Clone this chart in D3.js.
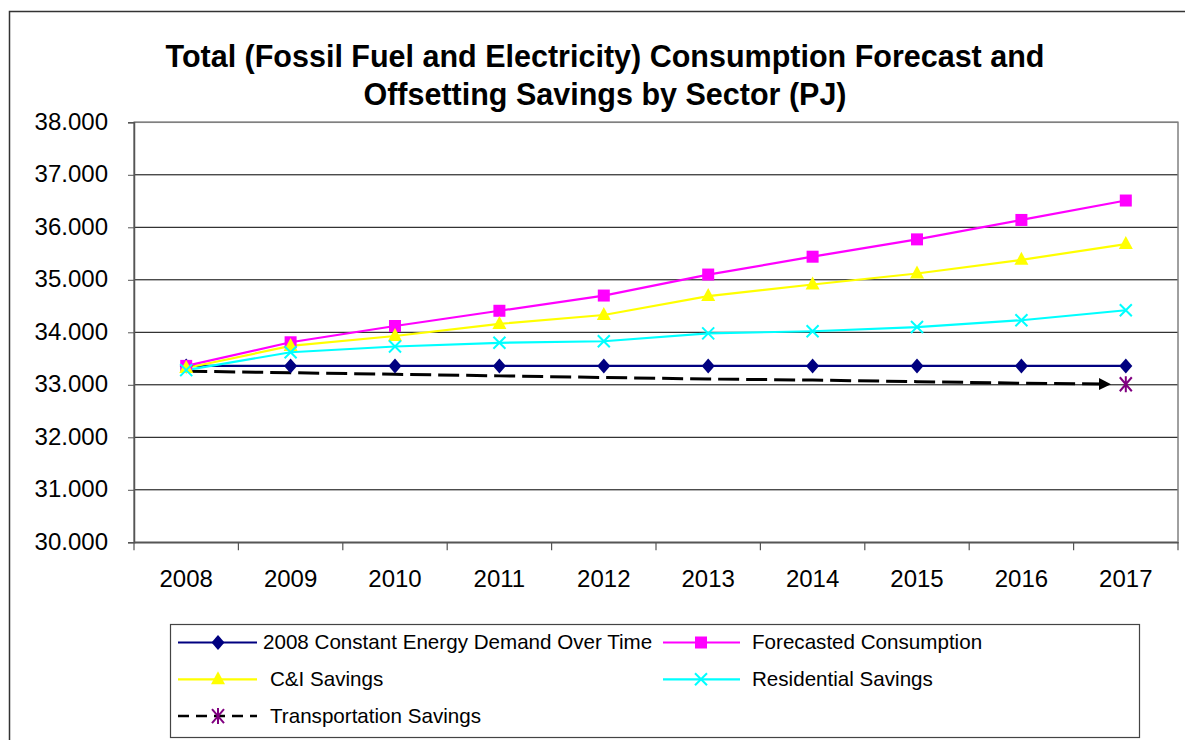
<!DOCTYPE html>
<html>
<head>
<meta charset="utf-8">
<script src="https://cdn.jsdelivr.net/npm/d3@7/dist/d3.min.js"></script>
<style>
  html, body { margin: 0; padding: 0; background: #fff; }
  svg { display: block; font-family: "Liberation Sans", Arial, sans-serif; }
</style>
</head>
<body>
<svg id="chart" width="1185" height="740"></svg>
<script>
// ---------- DATA ----------
const years = ["2008","2009","2010","2011","2012","2013","2014","2015","2016","2017"];
const yTicks = [30, 31, 32, 33, 34, 35, 36, 37, 38];
const titleLines = ["Total (Fossil Fuel and Electricity) Consumption Forecast and",
                    "Offsetting Savings by Sector (PJ)"];
const constantDemand = [33.36, 33.36, 33.36, 33.36, 33.36, 33.36, 33.36, 33.36, 33.36, 33.36];
const forecasted     = [33.36, 33.81, 34.12, 34.41, 34.70, 35.10, 35.44, 35.77, 36.14, 36.51];
const ciSavings      = [33.32, 33.74, 33.93, 34.16, 34.33, 34.69, 34.91, 35.12, 35.38, 35.68];
const residential    = [33.28, 33.62, 33.73, 33.80, 33.83, 33.98, 34.02, 34.10, 34.23, 34.42];
const transportation = [33.26, 33.23, 33.20, 33.17, 33.14, 33.11, 33.09, 33.06, 33.03, 33.01];
const seriesNames = ["2008 Constant Energy Demand Over Time", "Forecasted Consumption",
                     "C&I Savings", "Residential Savings", "Transportation Savings"];

// ---------- SETUP ----------
const svg = d3.select("#chart");
const L = 134, R = 1178, T = 122.3, B = 542.3;

const x = d3.scaleBand().domain(years).range([L, R]).padding(0);
const y = d3.scaleLinear().domain([30, 38]).range([B, T]);
const cx = d => x(d) + x.bandwidth() / 2;

// outer border
svg.append("rect").attr("x", 9.5).attr("y", 11.5).attr("width", 1190).attr("height", 760)
  .attr("fill", "none").attr("stroke", "#333").attr("stroke-width", 1.5);

// title
const title = svg.append("text").attr("text-anchor", "middle")
  .attr("font-weight", "bold").attr("font-size", "30.5px").attr("fill", "#000");
titleLines.forEach((t, i) => {
  title.append("tspan").attr("x", 605).attr("y", 67 + i * 37.5).text(t);
});

// gridlines
svg.append("g").selectAll("line").data(yTicks).join("line")
  .attr("x1", L).attr("x2", R).attr("y1", d => y(d)).attr("y2", d => y(d))
  .attr("stroke", "#000").attr("stroke-width", 1);

// plot border
svg.append("rect").attr("x", L).attr("y", T).attr("width", R - L).attr("height", B - T)
  .attr("fill", "none").attr("stroke", "#808080").attr("stroke-width", 1.5);

// y axis
const yAxis = d3.axisLeft(y).tickValues(yTicks).tickSize(6).tickPadding(20)
  .tickFormat(d3.format(".3f"));
const gy = svg.append("g").attr("transform", `translate(${L},0)`).call(yAxis);
gy.select(".domain").attr("stroke", "#555").attr("stroke-width", 1.5);
gy.selectAll(".tick line").attr("stroke", "#555");
gy.selectAll(".tick text").attr("font-size", "24px").attr("fill", "#000")
  .attr("font-family", "Liberation Sans, Arial, sans-serif").attr("dy", "0.28em");

// x axis
const xAxis = d3.axisBottom(x).tickSize(0).tickPadding(28);
const gx = svg.append("g").attr("transform", `translate(0,${B})`).call(xAxis);
gx.select(".domain").attr("stroke", "#555").attr("stroke-width", 1.5);
gx.selectAll(".tick text").attr("font-size", "24px").attr("fill", "#000")
  .attr("font-family", "Liberation Sans, Arial, sans-serif");
const bounds = years.map(d => x(d)).concat([x(years[years.length - 1]) + x.bandwidth()]);
svg.append("g").selectAll("line").data(bounds).join("line")
  .attr("x1", d => d).attr("x2", d => d).attr("y1", B).attr("y2", B + 8)
  .attr("stroke", "#555").attr("stroke-width", 1.2);

// ---------- MARKERS ----------
function drawMarker(g, type, px, py) {
  if (type === "diamond") {
    g.append("path").attr("d", `M${px},${py-7.5}L${px+6.5},${py}L${px},${py+7.5}L${px-6.5},${py}Z`)
      .attr("fill", "#000080");
  } else if (type === "square") {
    g.append("rect").attr("x", px - 6).attr("y", py - 6).attr("width", 12).attr("height", 12)
      .attr("fill", "#FF00FF");
  } else if (type === "triangle") {
    g.append("path").attr("d", `M${px},${py-8}L${px+7},${py+5}L${px-7},${py+5}Z`)
      .attr("fill", "#FFFF00");
  } else if (type === "x") {
    g.append("path").attr("d", `M${px-6},${py-6}L${px+6},${py+6}M${px-6},${py+6}L${px+6},${py-6}`)
      .attr("stroke", "#00FFFF").attr("stroke-width", 2);
  } else if (type === "star") {
    g.append("path").attr("d", `M${px-6},${py-7}L${px+6},${py+7}M${px-6},${py+7}L${px+6},${py-7}M${px},${py-8}L${px},${py+8}`)
      .attr("stroke", "#800080").attr("stroke-width", 2);
  }
}

const series = [
  { name: seriesNames[0], values: constantDemand, color: "#000080", marker: "diamond" },
  { name: seriesNames[1], values: forecasted, color: "#FF00FF", marker: "square" },
  { name: seriesNames[2], values: ciSavings, color: "#FFFF00", marker: "triangle" },
  { name: seriesNames[3], values: residential, color: "#00FFFF", marker: "x" }
];

const line = d3.line().x(d => cx(d.year)).y(d => y(d.v));

// transportation dashed arrow (drawn first, behind)
svg.append("defs").append("marker").attr("id", "arrow")
  .attr("viewBox", "0 0 10 10").attr("refX", 9).attr("refY", 5)
  .attr("markerWidth", 4).attr("markerHeight", 4).attr("orient", "auto")
  .attr("markerUnits", "strokeWidth")
  .append("path").attr("d", "M0,0L10,5L0,10Z").attr("fill", "#000");

const tPts = years.map((yr, i) => ({ year: yr, v: transportation[i] }));
const tCoords = tPts.map(p => [cx(p.year), y(p.v)]);
// shorten final segment so the arrow stops before the last marker
const n = tCoords.length;
const [ax, ay] = tCoords[n - 2], [bx, by] = tCoords[n - 1];
const segLen = Math.hypot(bx - ax, by - ay);
const shrink = 16 / segLen;
const tEnd = [bx - (bx - ax) * shrink, by - (by - ay) * shrink];
const tLine = tCoords.slice(0, n - 1).concat([tEnd]);
svg.append("path").attr("d", d3.line()(tLine)).attr("fill", "none")
  .attr("stroke", "#000").attr("stroke-width", 3).attr("stroke-dasharray", "21,7")
  .attr("marker-end", "url(#arrow)");

series.forEach(s => {
  const pts = years.map((yr, i) => ({ year: yr, v: s.values[i] }));
  svg.append("path").attr("d", line(pts)).attr("fill", "none")
    .attr("stroke", s.color).attr("stroke-width", 2.2);
});
// markers drawn in order: constant, forecasted, C&I, residential
series.forEach(s => {
  const g = svg.append("g");
  years.forEach((yr, i) => drawMarker(g, s.marker, cx(yr), y(s.values[i])));
});
// transportation marker at final point only
drawMarker(svg.append("g"), "star", tCoords[n - 1][0], tCoords[n - 1][1]);

// ---------- LEGEND ----------
const lg = svg.append("g");
lg.append("rect").attr("x", 170.5).attr("y", 624.5).attr("width", 969).attr("height", 113)
  .attr("fill", "#fff").attr("stroke", "#444").attr("stroke-width", 1.2);

const legendItems = [
  { name: seriesNames[0], color: "#000080", marker: "diamond", col: 0, row: 0, dash: null },
  { name: seriesNames[1], color: "#FF00FF", marker: "square", col: 1, row: 0, dash: null },
  { name: seriesNames[2], color: "#FFFF00", marker: "triangle", col: 0, row: 1, dash: null },
  { name: seriesNames[3], color: "#00FFFF", marker: "x", col: 1, row: 1, dash: null },
  { name: seriesNames[4], color: "#000", marker: "star", col: 0, row: 2, dash: "11,7" }
];
const colX = [[178, 257, 218, 270], [663, 740, 701, 752]];
legendItems.forEach(it => {
  const [x1, x2, mx, tx] = colX[it.col];
  const ly = 642.5 + it.row * 36.8;
  lg.append("line").attr("x1", x1).attr("x2", x2).attr("y1", ly).attr("y2", ly)
    .attr("stroke", it.color).attr("stroke-width", it.dash ? 2.5 : 2.2)
    .attr("stroke-dasharray", it.dash);
  drawMarker(lg, it.marker, mx, ly);
  lg.append("text").attr("x", (it.col === 0 && it.row === 0) ? 263 : tx).attr("y", ly + 6.7)
    .attr("font-size", "20.6px").attr("fill", "#000").text(it.name);
});
</script>
</body>
</html>
